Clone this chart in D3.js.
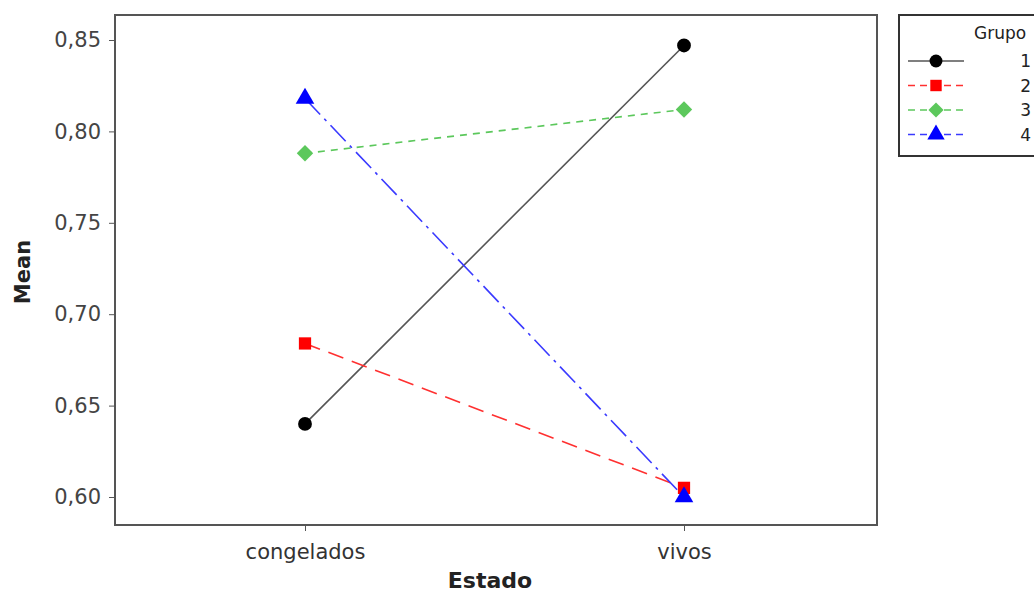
<!DOCTYPE html>
<html>
<head>
<meta charset="utf-8">
<script src="https://cdn.jsdelivr.net/npm/d3@7"></script>
<style>
  body { margin: 0; background: #fff; }
  text { font-family: "DejaVu Sans", Verdana, sans-serif; }
</style>
</head>
<body>
<div id="chart"></div>
<script>
(function () {

  // data
  var estados = ["congelados", "vivos"];
  var grupos = ["1", "2", "3", "4"];
  var grupo1 = [0.640, 0.847];
  var grupo2 = [0.684, 0.605];
  var grupo3 = [0.788, 0.812];
  var grupo4 = [0.818, 0.600];
  var yTicks = [0.60, 0.65, 0.70, 0.75, 0.80, 0.85];

  var series = [
    { name: grupos[0], values: grupo1, color: "#555", marker: d3.symbolCircle, rot: 0, dash: null, mcolor: "#000" },
    { name: grupos[1], values: grupo2, color: "#ff3030", marker: d3.symbolSquare, rot: 0, dash: "16,9", mcolor: "#ff0000" },
    { name: grupos[2], values: grupo3, color: "#5cc85c", marker: d3.symbolSquare, rot: 45, dash: "7,6", mcolor: "#5cc85c" },
    { name: grupos[3], values: grupo4, color: "#3a3aff", marker: d3.symbolTriangle, rot: 0, dash: "22,6,3,6", mcolor: "#0000ff" }
  ];

  var width = 1034,
      height = 592;

  var left = 115, right = 877, top = 15, bottom = 525;

  var svg = d3.select("#chart")
    .append("svg")
    .attr("width", width)
    .attr("height", height);

  //scales
  var x = d3.scalePoint().domain(estados).range([305, 684]);
  var y = d3.scaleLinear().domain([0.60, 0.85]).range([497, 40]);

  // frame
  svg.append("rect")
    .attr("x", left).attr("y", top)
    .attr("width", right - left).attr("height", bottom - top)
    .attr("fill", "none").attr("stroke", "#555").attr("stroke-width", 2);

  // y axis
  var yAxis = d3.axisLeft(y).tickValues(yTicks).tickSize(6).tickPadding(8)
    .tickFormat(function (d) { return d3.format(".2f")(d).replace(".", ","); });
  var gy = svg.append("g").attr("transform", "translate(" + left + ",0)").call(yAxis);
  gy.select(".domain").remove();
  gy.selectAll("line").attr("stroke", "#555");
  gy.selectAll("text").attr("font-size", 21).attr("fill", "#444");

  // x axis
  var xAxis = d3.axisBottom(x).tickSize(6).tickPadding(13);
  var gx = svg.append("g").attr("transform", "translate(0," + bottom + ")").call(xAxis);
  gx.select(".domain").remove();
  gx.selectAll("line").attr("stroke", "#555");
  gx.selectAll("text").attr("font-size", 21).attr("fill", "#333");

  // axis titles
  svg.append("text")
    .attr("transform", "translate(30,272) rotate(-90)")
    .attr("text-anchor", "middle")
    .attr("font-size", 21).attr("font-weight", "bold").attr("fill", "#222")
    .text("Mean");
  svg.append("text")
    .attr("x", 490).attr("y", 588)
    .attr("text-anchor", "middle")
    .attr("font-size", 22).attr("font-weight", "bold").attr("fill", "#222")
    .text("Estado");

  // lines
  var line = d3.line()
    .x(function (d, i) { return x(estados[i]); })
    .y(function (d) { return y(d); });

  var g = svg.selectAll(".serie")
    .data(series)
    .enter().append("g")
    .attr("class", "serie");

  g.append("path")
    .attr("d", function (d) { return line(d.values); })
    .attr("fill", "none")
    .attr("stroke", function (d) { return d.color; })
    .attr("stroke-width", 1.6)
    .attr("stroke-dasharray", function (d) { return d.dash; });

  g.selectAll(".pt")
    .data(function (d) { return d.values.map(function (v, i) { return { v: v, i: i, s: d }; }); })
    .enter().append("path")
    .attr("class", "pt")
    .attr("transform", function (d) {
      return "translate(" + x(estados[d.i]) + "," + y(d.v) + ") rotate(" + d.s.rot + ")";
    })
    .attr("d", function (d) { return d3.symbol().type(d.s.marker).size(d.s.rot ? 135 : 150)(); })
    .attr("fill", function (d) { return d.s.mcolor; });

  // legend
  var lg = svg.append("g");
  lg.append("rect")
    .attr("x", 899).attr("y", 15).attr("width", 145).attr("height", 141)
    .attr("fill", "none").attr("stroke", "#333").attr("stroke-width", 2);
  lg.append("text")
    .attr("x", 974).attr("y", 39)
    .attr("font-size", 17).attr("fill", "#222")
    .text("Grupo");

  var items = lg.selectAll(".item")
    .data(series)
    .enter().append("g")
    .attr("class", "item")
    .attr("transform", function (d, i) { return "translate(0," + (61 + i * 24.5) + ")"; });

  items.append("line")
    .attr("x1", 908).attr("x2", 964)
    .attr("stroke", function (d) { return d.color; })
    .attr("stroke-width", 1.6)
    .attr("stroke-dasharray", function (d) { return d.dash ? "7,5" : null; });
  items.append("path")
    .attr("transform", function (d) { return "translate(936,0) rotate(" + d.rot + ")"; })
    .attr("d", function (d) { return d3.symbol().type(d.marker).size(d.rot ? 115 : 130)(); })
    .attr("fill", function (d) { return d.mcolor; });
  items.append("text")
    .attr("x", 1031).attr("y", 6)
    .attr("text-anchor", "end")
    .attr("font-size", 17).attr("fill", "#222")
    .text(function (d) { return d.name; });

})();
</script>
</body>
</html>
